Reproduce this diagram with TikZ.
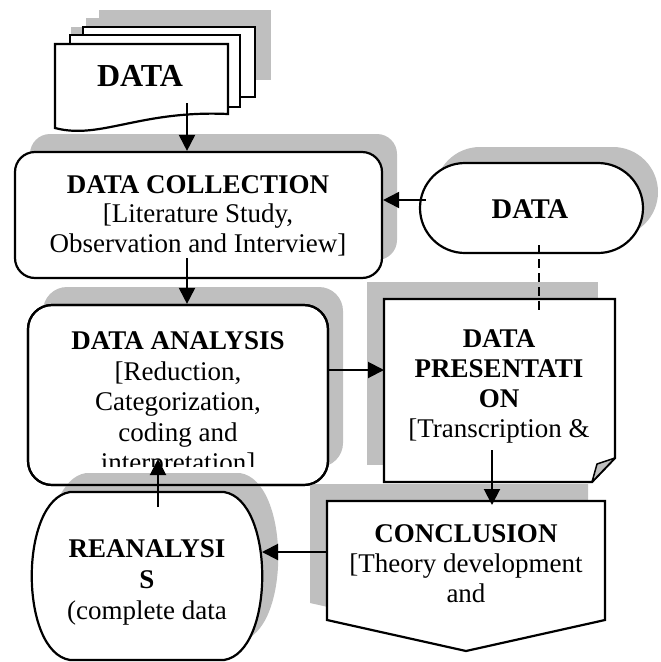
\documentclass[tikz,border=0pt]{standalone}
\usepackage{fontspec}
\setmainfont{Liberation Serif}
\usetikzlibrary{arrows.meta,calc}
\definecolor{shd}{RGB}{191,191,191}
\begin{document}
\begin{tikzpicture}[x=1pt,y=-1pt,
  shadowfill/.style={fill=shd,draw=none},
  outline/.style={draw=black,line width=2.2pt,fill=white},
  frame/.style={inner sep=0pt,outer sep=0pt,draw=none},
  arr/.style={line width=2pt,-{Triangle[length=16pt,width=16pt]}},
  dashline/.style={line width=2pt,dash pattern=on 9pt off 5pt},
  txt/.style={align=center,inner sep=0pt,font=\fontsize{27}{30}\selectfont},
]
\useasboundingbox (0,0) rectangle (661,662);

% ---------- multi-document stack ----------
\path[shadowfill] (99,10) rectangle (271,80);
\path[shadowfill] (86,18) rectangle (256,90);
\path[shadowfill] (71,27) -- (244,27) -- (244,97) .. controls (156,93) and (116,123) .. (71,111) -- cycle;
\path[outline] (83,27) rectangle (255,97);
\path[outline] (70,35) rectangle (240,107);
\path[outline] (55,44) -- (228,44) -- (228,114) .. controls (140,110) and (100,140) .. (55,128) -- cycle;
\node[frame,minimum width=173pt,minimum height=86pt] (doc) at (141.5,87) {};
\node[inner sep=0pt,anchor=base,font=\bfseries\fontsize{32}{36}\selectfont] (doct) at (140,86) {DATA};

% ---------- DATA COLLECTION ----------
\path[shadowfill,rounded corners=20pt] (30,134) rectangle (397,260);
\node[outline,rounded corners=20pt,inner sep=0pt,minimum width=367pt,minimum height=126pt] (coll) at (198.5,215) {};
\node[txt,font=\fontsize{27}{29.5}\selectfont] (collt) at (198,215.4)
  {\textbf{DATA COLLECTION}\\{[}Literature Study,\\Observation and Interview]};

% ---------- DATA (terminal) ----------
\path[shadowfill,rounded corners=45pt] (435,147) rectangle (658,237);
\node[outline,rounded corners=45pt,inner sep=0pt,minimum width=223pt,minimum height=90pt] (src) at (531.5,208) {};
\node[inner sep=0pt,anchor=base,font=\bfseries\fontsize{28.5}{32}\selectfont] (srct) at (530,218) {DATA};

% ---------- DATA ANALYSIS ----------
\path[shadowfill,rounded corners=24pt] (43,287) rectangle (343,467);
\node[outline,rounded corners=24pt,inner sep=0pt,minimum width=300pt,minimum height=180pt] (anal) at (178,395) {};
\begin{scope}
  \clip (28,305) rectangle (328,466);
  \node[txt,font=\fontsize{27}{30.5}\selectfont] (analt) at (178,404.8)
    {\textbf{DATA ANALYSIS}\\{[}Reduction,\\Categorization,\\coding and\\interpretation]};
\end{scope}

% ---------- DATA PRESENTATION ----------
\node[frame,minimum width=231pt,minimum height=183pt] (pres) at (499.5,390.5) {};
\path[shadowfill] (367,282) rectangle (598,465);
\path[outline] (pres.north west) -- (pres.north east) -- ([yshift=24pt]pres.south east)
  -- ([xshift=-23pt]pres.south east) -- (pres.south west) -- cycle;
\path[draw=black,line width=1.5pt,fill=shd,line join=round] ([xshift=-23pt]pres.south east)
  -- ([xshift=-18pt,yshift=18pt]pres.south east) -- ([yshift=24pt]pres.south east) -- cycle;
\node[txt,font=\fontsize{27}{30.3}\selectfont] (prest) at (499,386.5)
  {\textbf{DATA}\\\textbf{PRESENTATI}\\\textbf{ON}\\{[}Transcription \&};

% ---------- CONCLUSION ----------
\node[frame,minimum width=278pt,minimum height=150pt] (conc) at (466,576) {};
\path[shadowfill] (310,484) -- (588,484) -- (588,603) -- (449,634) -- (310,603) -- cycle;
\path[outline] (conc.north west) -- (conc.north east) -- ([yshift=31pt]conc.south east)
  -- (conc.south) -- ([yshift=31pt]conc.south west) -- cycle;
\node[txt] (conct) at (466,564)
  {\textbf{CONCLUSION}\\{[}Theory development\\and};

% ---------- REANALYSIS ----------
\node[frame,minimum width=230pt,minimum height=168pt] (rean) at (147,576) {};
\path[shadowfill] (86,473) -- (240,473) .. controls (291,481) and (291,633) .. (240,641)
  -- (86,641) .. controls (35,633) and (35,481) .. (86,473) -- cycle;
\draw[line width=2.2pt,rounded corners=24pt] (28,305) rectangle (328,485);
\path[outline] (70,492) -- (224,492) .. controls (275,500) and (275,652) .. (224,660)
  -- (70,660) .. controls (19,652) and (19,500) .. (70,492) -- cycle;
\node[txt,font=\fontsize{27}{31}\selectfont] (reant) at (147,582.8)
  {\textbf{REANALYSI}\\\textbf{S}\\(complete data};

% ---------- connectors ----------
\coordinate (a1) at ([xshift=45.5pt,yshift=-16pt]doc.center);
\draw[arr] (a1) -- (a1 |- coll.north);
\coordinate (a2) at ([xshift=-11.5pt,yshift=-43pt]coll.center);
\draw[arr] (a2) -- (a2 |- anal.north);
\coordinate (a3) at ([xshift=7pt,yshift=8pt]src.west);
\draw[arr] (a3) -- (a3 -| coll.east);
\coordinate (a4) at ([yshift=25pt]anal.east);
\draw[arr] (a4) -- (a4 -| pres.west);
\coordinate (a5) at ([xshift=-7.5pt,yshift=-59.5pt]pres.center);
\coordinate (c5) at (a5 |- conc.north);
\draw[arr] (a5) -- ([yshift=-4pt]c5);
\coordinate (a6) at ([yshift=24pt]conc.west);
\draw[arr] (a6) -- (a6 -| rean.east);
\draw[arr] ([xshift=11pt,yshift=69pt]rean.center) -- ([xshift=-20pt,yshift=-64pt]anal.center);
\coordinate (d1) at ([xshift=7.5pt,yshift=-37pt]src.center);
\coordinate (d2) at (d1 |- pres.north);
\draw[dashline] (d1) -- ([yshift=-11pt]d2);
\end{tikzpicture}
\end{document}
